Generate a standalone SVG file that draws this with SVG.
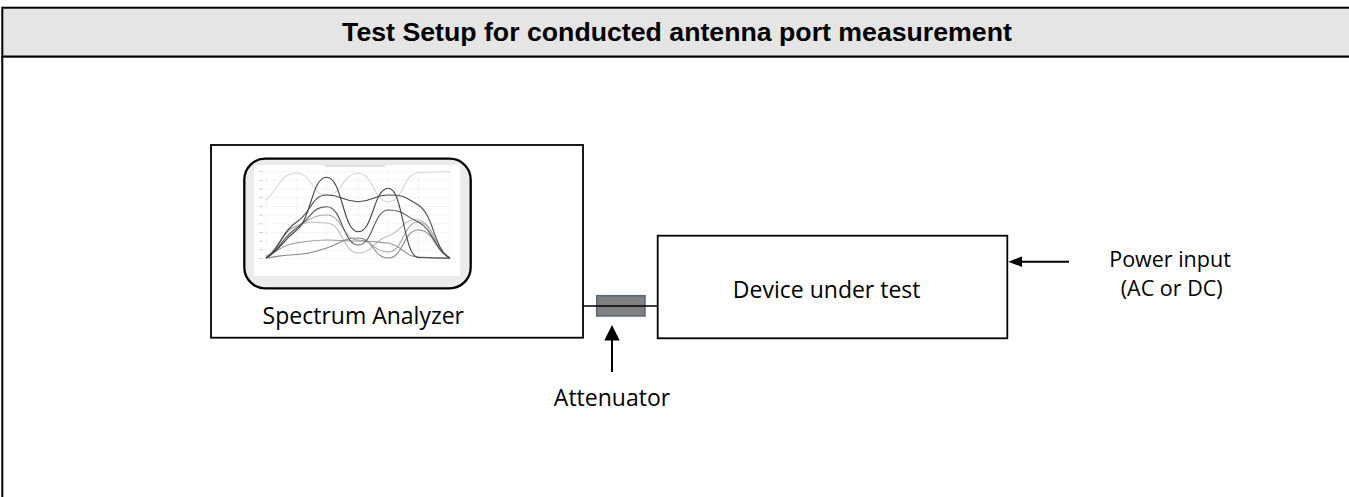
<svg xmlns="http://www.w3.org/2000/svg" width="1349" height="497" viewBox="0 0 1349 497">
<style>
.lbl{font-family:"Open Sans","Noto Sans",sans-serif;font-size:23px;fill:#000;text-anchor:middle}
.pw{font-size:21.5px}
.title{font-family:"Liberation Sans",Arial,sans-serif;font-size:26.7px;font-weight:bold;fill:#000;text-anchor:middle}
.box{fill:#fff;stroke:#000;stroke-width:1.8}
.grid{stroke:#eeeeee;stroke-width:0.6;fill:none}
.c{fill:none;stroke-width:1.1}
.wire{stroke:#000;stroke-width:1.6;fill:none}
.shaft{stroke:#000;stroke-width:2;fill:none}
</style>
<rect width="1349" height="497" fill="#fff"/>
<g id="frame">
<rect x="2.3" y="7.7" width="1400" height="49" fill="#e5e5e5" stroke="#000" stroke-width="2"/>
<rect x="2.3" y="56.7" width="1400" height="500" fill="#fff" stroke="#000" stroke-width="2"/>
<text class="title" x="677" y="41">Test Setup for conducted antenna port measurement</text>
</g>
<g id="spectrum-analyzer">
<rect class="box" x="211" y="145" width="372" height="192.7"/>
<rect x="244.3" y="158.7" width="226.4" height="129.6" rx="21" ry="21" fill="#ebebeb" stroke="#000" stroke-width="2.3"/>
<rect x="254" y="165" width="206" height="111" fill="#fff"/>
<rect x="325" y="164.5" width="60" height="2.5" rx="1.2" fill="#e0e0e0"/>
<g class="grid">
<path d="M266 171.7H450M266 180.4H450M266 189.1H450M266 197.8H450M266 206.5H450M266 215.2H450M266 223.9H450M266 232.6H450M266 241.3H450M266 250H450M266 258.5H450"/>
<path d="M266 171.7V258.5M296.7 171.7V258.5M326.7 171.7V258.5M358.3 171.7V258.5M388.3 171.7V258.5M418.3 171.7V258.5M450 171.7V258.5"/>
</g>
<g fill="#d0d0d0">
<rect x="259" y="171" width="4" height="1"/><rect x="259" y="179.8" width="4" height="1"/><rect x="259" y="188.5" width="4" height="1"/><rect x="259" y="197.2" width="4" height="1"/><rect x="259" y="205.9" width="4" height="1"/><rect x="259" y="214.6" width="4" height="1"/><rect x="259" y="223.3" width="4" height="1"/><rect x="259" y="232" width="4" height="1"/><rect x="259" y="240.7" width="4" height="1"/><rect x="259" y="249.4" width="4" height="1"/><rect x="259" y="258" width="4" height="1"/>
</g>
<path class="c" stroke="#d6d6d6" d="M266 200C281 185 281 173.3 296.7 173.3C311.7 173.3 311.7 195 326.7 195C342.5 195 342.5 173.3 358.3 173.3C373.3 173.3 373.3 201.7 388.3 201.7C403.3 201.7 403.3 173.3 418.3 172.5C434 171.7 434 171.7 450 171.7"/>
<path class="c" stroke="#bdbdbd" d="M266 258C281 245 281 232 296.7 226C311.7 220 311.7 223 326.7 223C342.5 223 342.5 253 358.3 253C373.3 253 373.3 240 388.3 236C403.3 230 403.3 218 418.3 220C434 222 434 250 450 258"/>
<path class="c" stroke="#a8a8a8" d="M266 258C281 250 281 230 296.7 226C311.7 220 311.7 215 326.7 215C342.5 215 342.5 240 358.3 240C373.3 240 373.3 252 388.3 252C403.3 252 403.3 222 418.3 222C434 222 434 250 450 258"/>
<path class="c" stroke="#9a9a9a" d="M266 256C281 250 281 245 296.7 243C311.7 241 311.7 240 326.7 240C342.5 240 342.5 241 358.3 241C373.3 241 373.3 242 388.3 243C403.3 246 403.3 256 418.3 257C434 258 434 258 450 258"/>
<path class="c" stroke="#888" d="M266 258C281 256 281 255 296.7 254.5C311.7 254 311.7 252 326.7 248C342.5 243 342.5 238 358.3 238C373.3 238 373.3 258 388.3 258C403.3 258 403.3 230 418.3 230C434 230 434 250 450 258"/>
<path class="c" stroke="#555" d="M266 258C281 250 281 238 296.7 228C311.7 218 311.7 206.7 326.7 206.7C342.5 206.7 342.5 245 358.3 245C373.3 245 373.3 210 388.3 210C403.3 210 403.3 215 418.3 222C434 230 434 250 450 258"/>
<path class="c" stroke="#4a4a4a" d="M266 258C281 248 281 232 296.7 222C311.7 212 311.7 195 326.7 195C342.5 195 342.5 201.7 358.3 201.7C373.3 201.7 373.3 195 388.3 195C403.3 195 403.3 196 418.3 205C434 215 434 250 450 258"/>
<path class="c" stroke="#444" d="M266 258C281 250 281 242 296.7 230C311.7 218 311.7 177.3 326.7 177.3C342.5 177.3 342.5 231.7 358.3 231.7C373.3 231.7 373.3 188.3 388.3 188.3C403.3 188.3 403.3 256.7 418.3 257.5C434 258.3 434 258.3 450 258.3"/>
<text class="lbl" x="363.3" y="324.3">Spectrum Analyzer</text>
</g>
<g id="device-under-test">
<rect class="box" x="657.7" y="235.7" width="349.6" height="102.6"/>
<text class="lbl" x="826.7" y="298.3">Device under test</text>
</g>
<g id="attenuator">
<rect x="596.7" y="295.7" width="48.3" height="20.3" fill="#808080" stroke="#56657f" stroke-width="1.5"/>
</g>
<g id="attenuator-label">
<text class="lbl" x="612" y="406">Attenuator</text>
</g>
<g id="power-label">
<text class="lbl pw" x="1170" y="266.5">Power input</text>
<text class="lbl pw" x="1171.7" y="296">(AC or DC)</text>
</g>
<g id="connectors">
<path class="wire" d="M583 306H658"/>
<path class="shaft" d="M612 372V338"/>
<polygon points="604.3,340.5 619.7,340.5 612,325" fill="#000"/>
<path class="shaft" d="M1069 261.7H1020"/>
<polygon points="1008.3,261.7 1022,256.5 1022,266.9" fill="#000"/>
</g>
</svg>
